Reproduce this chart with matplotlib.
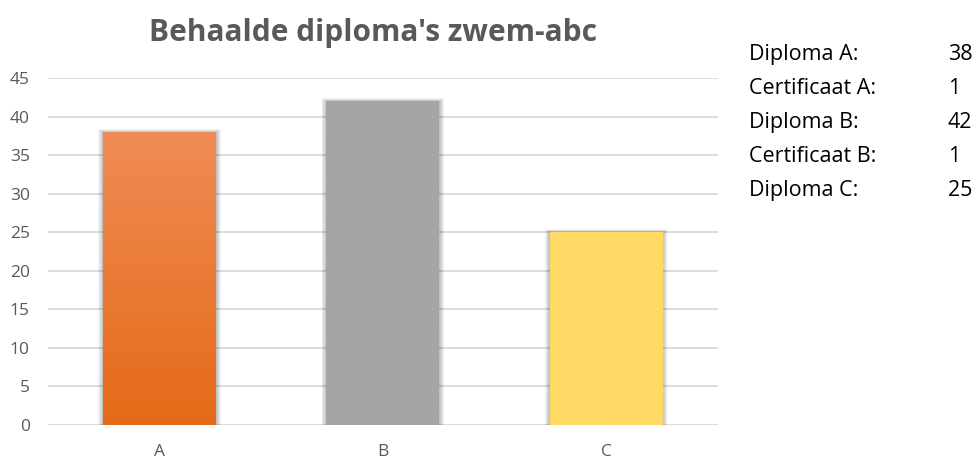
import matplotlib
matplotlib.use("Agg")
import matplotlib.pyplot as plt
import numpy as np
from matplotlib.patches import Rectangle
from matplotlib.colors import LinearSegmentedColormap

categories = ["A", "B", "C"]
values = [38, 42, 25]
panel_labels = ["Diploma A:", "Certificaat A:", "Diploma B:", "Certificaat B:", "Diploma C:"]
panel_values = [38, 1, 42, 1, 25]
title = "Behaalde diploma's zwem-abc"

bar_top_colors = ["#F08C55", "#A5A5A5", "#FFD966"]
bar_bottom_colors = ["#E46A17", "#A5A5A5", "#FFD966"]

plt.rcParams['font.family'] = ['Open Sans', 'DejaVu Sans']

fig = plt.figure(figsize=(9.78, 4.62), dpi=100)
ax = fig.add_axes([0.049, 0.080, 0.685, 0.751])

x = np.arange(len(categories))
width = 0.506
ax.set_xlim(-0.5, len(categories) - 0.5)
ax.set_ylim(0, 45)
ax.set_yticks(np.arange(0, 46, 5))
ax.yaxis.grid(True, color="#D9D9D9", linewidth=1.3)
ax.set_axisbelow(True)
for s in ax.spines.values():
    s.set_visible(False)
ax.tick_params(axis="both", length=0, colors="#595959", labelsize=12.5)
ax.tick_params(axis="y", pad=13)
ax.tick_params(axis="x", pad=14)
ax.set_xticks(x)
ax.set_xticklabels(categories)

bars = ax.bar(x, values, width=width, color="none", zorder=3)
for i, b in enumerate(bars):
    x0, y0 = b.get_x(), b.get_y()
    w, h = b.get_width(), b.get_height()
    # soft shadow
    for k in range(6):
        d = 0.0035 * (k + 1)
        ax.add_patch(Rectangle((x0 - d, y0), w + 2 * d, h + d * 18,
                               facecolor="#000000", alpha=0.045, edgecolor="none", zorder=2.5))
    cmap = LinearSegmentedColormap.from_list("g", [bar_bottom_colors[i], bar_top_colors[i]])
    grad = np.linspace(0, 1, 256).reshape(-1, 1)
    im = ax.imshow(grad, cmap=cmap, aspect="auto", origin="lower",
                   extent=[x0, x0 + w, y0, y0 + h], zorder=3)
    rect = Rectangle((x0, y0), w, h, transform=ax.transData, facecolor="none", edgecolor="none")
    ax.add_patch(rect)
    im.set_clip_path(rect)
ax.set_xlim(-0.5, len(categories) - 0.5)
ax.set_ylim(0, 45)

fig.text(0.381, 0.928, title, ha="center", va="center", fontsize=21.5,
         fontweight="bold", color="#595959")

y_start = 0.882
dy = 0.0738
for j, (lab, val) in enumerate(zip(panel_labels, panel_values)):
    yy = y_start - j * dy
    fig.text(0.766, yy, lab, ha="left", va="center", fontsize=15.5, color="#000000")
    fig.text(0.969, yy, str(val), ha="left", va="center", fontsize=15.5, color="#000000")

fig.savefig("out.png", dpi=100)
